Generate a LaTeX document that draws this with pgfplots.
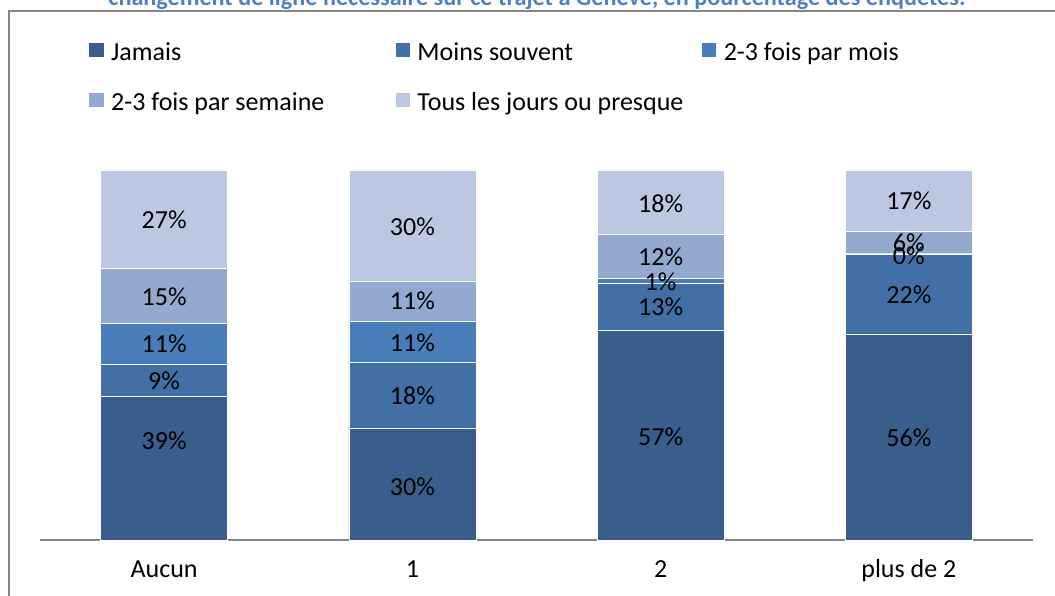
\documentclass[border=0pt]{standalone}
\usepackage{fontspec}
\setmainfont{Carlito}
\usepackage{pgfplots}
\pgfplotsset{compat=1.18}
\usepackage{pgfplotstable}
\definecolor{cJam}{RGB}{58,94,140}
\definecolor{cMoins}{RGB}{66,112,166}
\definecolor{cMois}{RGB}{74,126,187}
\definecolor{cSem}{RGB}{147,169,207}
\definecolor{cTous}{RGB}{188,200,225}
\definecolor{frameg}{RGB}{134,134,134}
\definecolor{titleblue}{RGB}{79,129,189}

\pgfplotstableread{
x y lab
0 86.5 27
0 65.7 15
0 53.0 11
0 43.0 9
0 26.8 39
1 84.6 30
1 64.6 11
1 53.2 11
1 38.9 18
1 14.3 30
2 90.8 18
2 76.5 12
2 69.7 1
2 63.0 13
2 27.8 57
3 91.6 17
3 80.3 6
3 76.8 0
3 66.2 22
3 27.6 56
}\labels

\begin{document}
\begin{tikzpicture}
\useasboundingbox (0,0) rectangle (527.5pt,297.5pt);
\draw[frameg, line width=1pt] (4.25pt,-5pt) -- (4.25pt,292pt) -- (540pt,292pt);
\node[anchor=base, text=titleblue, font=\fontsize{12.1pt}{14pt}\selectfont\bfseries] at (268.5pt,294.5pt)
  {changement de ligne nécessaire sur ce trajet à Genève, en pourcentage des enquêtes.};

\begin{axis}[
  at={(20pt,27.5pt)}, anchor=south west,
  scale only axis, width=496.5pt, height=185pt,
  xmin=-0.5, xmax=3.5, ymin=0, ymax=100,
  ybar stacked, bar width=63.5pt,
  axis x line=bottom, axis y line=none,
  x axis line style={-, draw=frameg, line width=1pt},
  xtick={0,1,2,3}, xticklabels={Aucun,1,2,plus de 2},
  major tick length=0pt,
  xticklabel style={anchor=base, yshift=-18.5pt, font=\fontsize{13pt}{15pt}\selectfont},
  legend columns=3,
  legend cell align=left,
  legend image code/.code={\fill[#1] (0pt,-1.6pt) rectangle (7.6pt,6.0pt);},
  legend style={at={(0.0483,1.3486)}, anchor=north west, draw=none, fill=none,
    inner sep=0pt, row sep=12.5pt,
    font=\fontsize{13pt}{15pt}\selectfont,
    nodes={inner sep=0pt, text height=9.5pt, text depth=3pt},
    /tikz/every odd column/.append style={column sep=3.5pt},
    /tikz/every even column/.append style={column sep=0pt}},
]
\addplot[fill=cJam, draw=white, line width=0.3pt] coordinates {(0,38.9) (1,30.3) (2,56.8) (3,55.7)};
\addlegendentry{\makebox[141.75pt][l]{Jamais}}
\addplot[fill=cMoins, draw=white, line width=0.3pt] coordinates {(0,8.7) (1,17.8) (2,12.7) (3,21.6)};
\addlegendentry{\makebox[141.75pt][l]{Moins souvent}}
\addplot[fill=cMois, draw=white, line width=0.3pt] coordinates {(0,11.0) (1,11.1) (2,1.1) (3,0.3)};
\addlegendentry{\makebox[141.75pt][l]{2-3 fois par mois}}
\addplot[fill=cSem, draw=white, line width=0.3pt] coordinates {(0,14.9) (1,10.8) (2,11.9) (3,5.9)};
\addlegendentry{\makebox[141.75pt][l]{2-3 fois par semaine}}
\addplot[fill=cTous, draw=white, line width=0.3pt] coordinates {(0,26.5) (1,30.0) (2,17.5) (3,16.5)};
\addlegendentry{\makebox[141.75pt][l]{Tous les jours ou presque}}
\end{axis}

\begin{axis}[
  at={(20pt,27.5pt)}, anchor=south west,
  scale only axis, width=496.5pt, height=185pt,
  xmin=-0.5, xmax=3.5, ymin=0, ymax=100,
  hide axis, clip=false,
]
\addplot[only marks, mark=none, nodes near coords={\pgfplotspointmeta\%},
  point meta=explicit symbolic, nodes near coords align={center},
  every node near coord/.append style={anchor=center, inner sep=0pt, font=\fontsize{13pt}{15pt}\selectfont, text=black}]
  table[x=x, y=y, meta=lab] {\labels};
\end{axis}
\end{tikzpicture}
\end{document}
